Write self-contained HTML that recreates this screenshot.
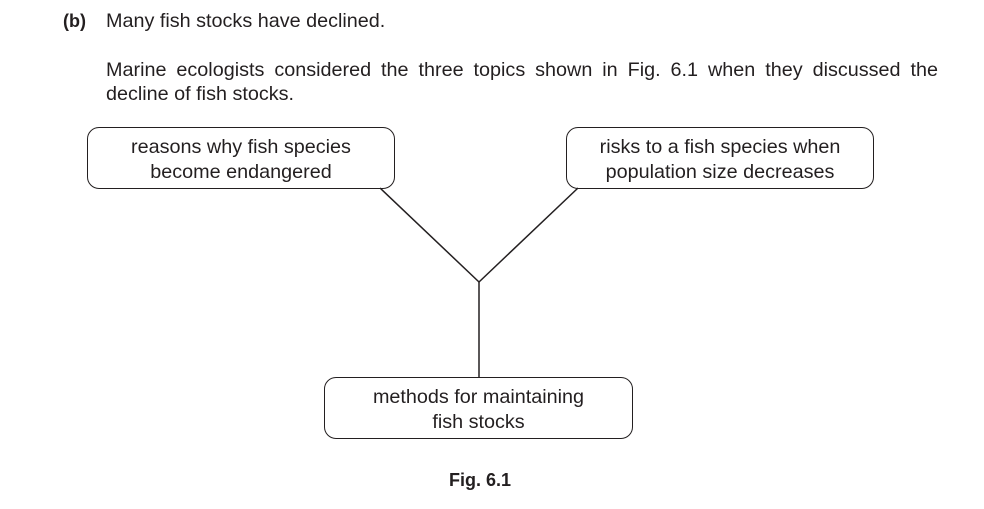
<!DOCTYPE html>
<html><head><meta charset="utf-8"><style>
html,body{margin:0;padding:0;background:#fff;}
body{width:984px;height:509px;position:relative;overflow:hidden;font-family:"Liberation Sans",Arial,sans-serif;color:#231f20;font-size:19.8px;}
.t{position:absolute;white-space:nowrap;}
.box{position:absolute;border:1.5px solid #231f20;border-radius:12px;box-sizing:border-box;text-align:center;line-height:25px;padding-top:7px;}
</style></head><body>
<div class="t" style="left:63px;top:11px;font-weight:bold;font-size:18px;">(b)</div>
<div class="t" style="left:106px;top:10px;">Many fish stocks have declined.</div>
<div class="t" style="left:106px;top:58px;width:832px;white-space:normal;text-align:justify;text-align-last:justify;line-height:24px;">Marine ecologists considered the three topics shown in Fig. 6.1 when they discussed the</div>
<div class="t" style="left:106px;top:82px;line-height:24px;">decline of fish stocks.</div>
<svg style="position:absolute;left:0;top:0" width="984" height="509">
<line x1="380" y1="188" x2="479" y2="282" stroke="#231f20" stroke-width="1.5"/>
<line x1="578" y1="188" x2="479" y2="282" stroke="#231f20" stroke-width="1.5"/>
<line x1="479" y1="282" x2="479" y2="377" stroke="#231f20" stroke-width="1.5"/>
</svg>
<div class="box" style="left:87px;top:127px;width:308px;height:62px;">reasons why fish species<br>become endangered</div>
<div class="box" style="left:566px;top:127px;width:308px;height:62px;">risks to a fish species when<br>population size decreases</div>
<div class="box" style="left:324px;top:377px;width:309px;height:62px;">methods for maintaining<br>fish stocks</div>
<div class="t" style="left:449px;top:470px;font-weight:bold;font-size:18px;">Fig. 6.1</div>
</body></html>
